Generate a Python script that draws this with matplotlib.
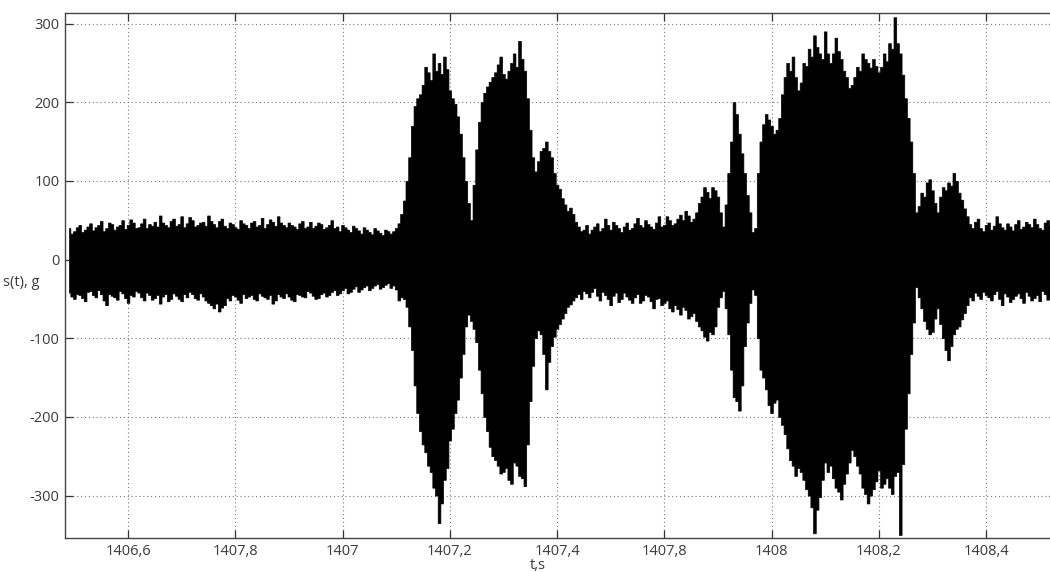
import numpy as np
import matplotlib.pyplot as plt

# signal envelope: values every 10 ms plus the half-step in between
t0 = 1406.49
dt = 0.01

upper = [40, 36, 44, 38, 46, 41, 49, 40, 45, 42,
         50, 44, 47, 41, 52, 45, 48, 56, 44, 49,
         43, 55, 46, 50, 44, 48, 56, 45, 49, 43,
         47, 41, 50, 44, 47, 42, 53, 45, 48, 55,
         44, 47, 42, 46, 40, 48, 43, 45, 41, 50,
         42, 44, 38, 43, 37, 41, 35, 40, 34, 38,
         33,
         40, 58, 100, 170, 205, 222, 238, 262, 250, 258,
         215, 198, 160, 100, 50, 140, 200, 220, 232, 248,
         236, 240, 262, 278, 240, 165, 112, 138, 150, 130,
         95, 78, 62, 58, 42,
         38, 33, 42, 36, 52, 38, 44, 35, 47, 40, 53, 41, 45, 39, 55,
         44, 50, 46, 57, 62, 48, 60, 80, 86, 92, 80, 42, 110, 200, 160,
         110, 60,
         40, 150, 185, 170, 165, 210, 250, 258, 215, 250,
         268, 285, 262, 290, 250, 282, 255, 232, 222, 245,
         262, 250, 255, 238, 262, 275, 308, 262, 205, 150, 60,
         85, 98, 88, 60, 92, 98, 110, 85, 65, 45, 48, 40,
         44, 38, 55, 41, 46, 37, 50, 42, 45, 52, 40, 47, 43]

upper_half = [33, 41, 35, 42, 37, 44, 36, 47, 38, 44,
              39, 51, 40, 46, 40, 43, 42, 47, 41, 52,
              45, 41, 54, 42, 47, 43, 49, 41, 52, 40,
              45, 39, 46, 40, 49, 44, 40, 51, 43, 47,
              41, 44, 39, 49, 42, 40, 47, 39, 44, 40,
              36, 41, 35, 40, 33, 38, 32, 37, 31, 36,
              36,
              46, 75, 130, 195, 210, 245, 228, 240, 236, 242,
              205, 182, 130, 72, 95, 175, 212, 226, 238, 258,
              230, 250, 245, 255, 205, 130, 125, 142, 138, 110,
              90, 70, 66, 48, 36,
              44, 38, 46, 40, 44, 48, 40, 42, 38, 46, 44, 50, 42, 47, 42,
              55, 44, 52, 50, 56, 52, 72, 92, 78, 88, 60, 70, 150, 185, 135,
              82, 35,
              110, 172, 178, 160, 180, 232, 240, 232, 225, 246,
              258, 270, 255, 262, 262, 265, 240, 218, 232, 240,
              255, 244, 246, 245, 252, 268, 275, 235, 180, 110, 68,
              80, 102, 72, 80, 88, 94, 100, 76, 55, 40, 52, 36,
              47, 43, 46, 38, 42, 45, 39, 48, 41, 45, 38, 50]

lower = [-42, -50, -45, -53, -40, -48, -44, -58, -46, -51,
         -43, -55, -47, -42, -52, -45, -49, -56, -44, -50,
         -46, -53, -48, -44, -51, -47, -55, -62, -66, -58,
         -52, -47, -55, -49, -45, -52, -46, -50, -56, -44,
         -49, -47, -53, -45, -48, -42, -50, -44, -47, -41,
         -45, -39, -43, -37, -41, -35, -39, -33, -37, -32,
         -36,
         -38, -48, -60, -115, -195, -235, -262, -290, -335, -280,
         -230, -195, -150, -85, -78, -105, -170, -218, -250, -262,
         -270, -280, -258, -275, -288, -180, -100, -95, -165, -110,
         -88, -75, -60, -52, -44,
         -40, -48, -36, -52, -45, -58, -42, -50, -47, -55, -44, -52, -47, -62, -49,
         -55, -62, -58, -70, -64, -72, -78, -90, -103, -95, -60, -40, -95, -175, -192,
         -110, -55,
         -45, -140, -165, -195, -178, -210, -240, -262, -265, -280,
         -300, -348, -302, -258, -262, -290, -305, -272, -242, -262,
         -290, -310, -292, -268, -285, -290, -275, -350, -215, -120, -35,
         -62, -88, -92, -62, -100, -128, -95, -85, -68, -48, -42, -50,
         -45, -52, -40, -58, -47, -50, -43, -55, -46, -49, -53, -44, -48]

lower_half = [-47, -44, -49, -41, -45, -39, -52, -44, -48, -40,
              -49, -45, -40, -48, -42, -51, -45, -47, -53, -43,
              -50, -44, -41, -49, -43, -52, -58, -56, -61, -49,
              -45, -51, -44, -47, -50, -43, -48, -45, -52, -47,
              -43, -51, -44, -47, -40, -46, -49, -42, -45, -39,
              -43, -36, -41, -34, -38, -33, -36, -31, -35, -30,
              -33,
              -52, -50, -85, -160, -218, -245, -270, -300, -310, -265,
              -215, -178, -120, -70, -88, -140, -200, -238, -255, -272,
              -265, -285, -262, -278, -235, -135, -90, -120, -130, -98,
              -82, -68, -57, -48, -50,
              -43, -41, -46, -41, -50, -46, -54, -42, -51, -48, -55, -45, -53, -50, -58,
              -52, -66, -63, -60, -75, -68, -85, -98, -92, -85, -48, -62, -140, -180, -160,
              -80, -38,
              -100, -150, -185, -182, -200, -222, -255, -275, -270, -292,
              -315, -318, -280, -270, -278, -295, -285, -258, -250, -272,
              -298, -300, -282, -290, -278, -298, -270, -260, -170, -80, -48,
              -78, -95, -75, -82, -115, -110, -88, -76, -58, -52, -46, -41,
              -48, -44, -50, -43, -54, -46, -49, -41, -52, -45, -40, -51]

tick_pos = [1406.6, 1406.8, 1407.0, 1407.2, 1407.4, 1407.6, 1407.8, 1408.0, 1408.2]
tick_lab = ["1406,6", "1407,8", "1407", "1407,2", "1407,4", "1407,8", "1408", "1408,2", "1408,4"]
ytick_pos = [-300, -200, -100, 0, 100, 200, 300]

plt.rcParams['font.family'] = ['Open Sans', 'DejaVu Sans']
plt.rcParams['axes.unicode_minus'] = False

# weave the on-step and half-step readings into one series
n = len(upper)
t = t0 + dt / 2 * np.arange(2 * n - 1)
up = np.empty(2 * n - 1)
lo = np.empty(2 * n - 1)
up[0::2], up[1::2] = upper, upper_half
lo[0::2], lo[1::2] = lower, lower_half

fig = plt.figure(figsize=(10.5, 5.72), dpi=100)
ax = fig.add_axes([0.0619, 0.0594, 0.9448, 0.9187])

ax.fill_between(t, lo, up, step='mid', facecolor='black', edgecolor='black',
                linewidth=0.5, zorder=3)

ax.set_xlim(1406.4825, 1408.3324)
ax.set_ylim(-354, 314)
ax.set_xticks(tick_pos)
ax.set_xticklabels(tick_lab)
ax.set_yticks(ytick_pos)

ax.set_axisbelow(True)
ax.grid(True, color='#777777', linestyle=(0, (1, 2.5)), linewidth=0.8)
ax.tick_params(direction='in', length=6, width=0.9, color='#333333',
               labelsize=10.5, labelcolor='#3a3a3a', top=True, right=True, pad=4)
for s in ax.spines.values():
    s.set_color('#444444')
    s.set_linewidth(1.0)

fig.text(0.003, 1 - 283 / 572, "s(t), g", fontsize=10.5, color='#3a3a3a', ha='left', va='center')
fig.text(538 / 1050, 1 - 569 / 572, "t,s", fontsize=10.5, color='#3a3a3a', ha='center', va='baseline')

fig.savefig("out.png", dpi=100)
